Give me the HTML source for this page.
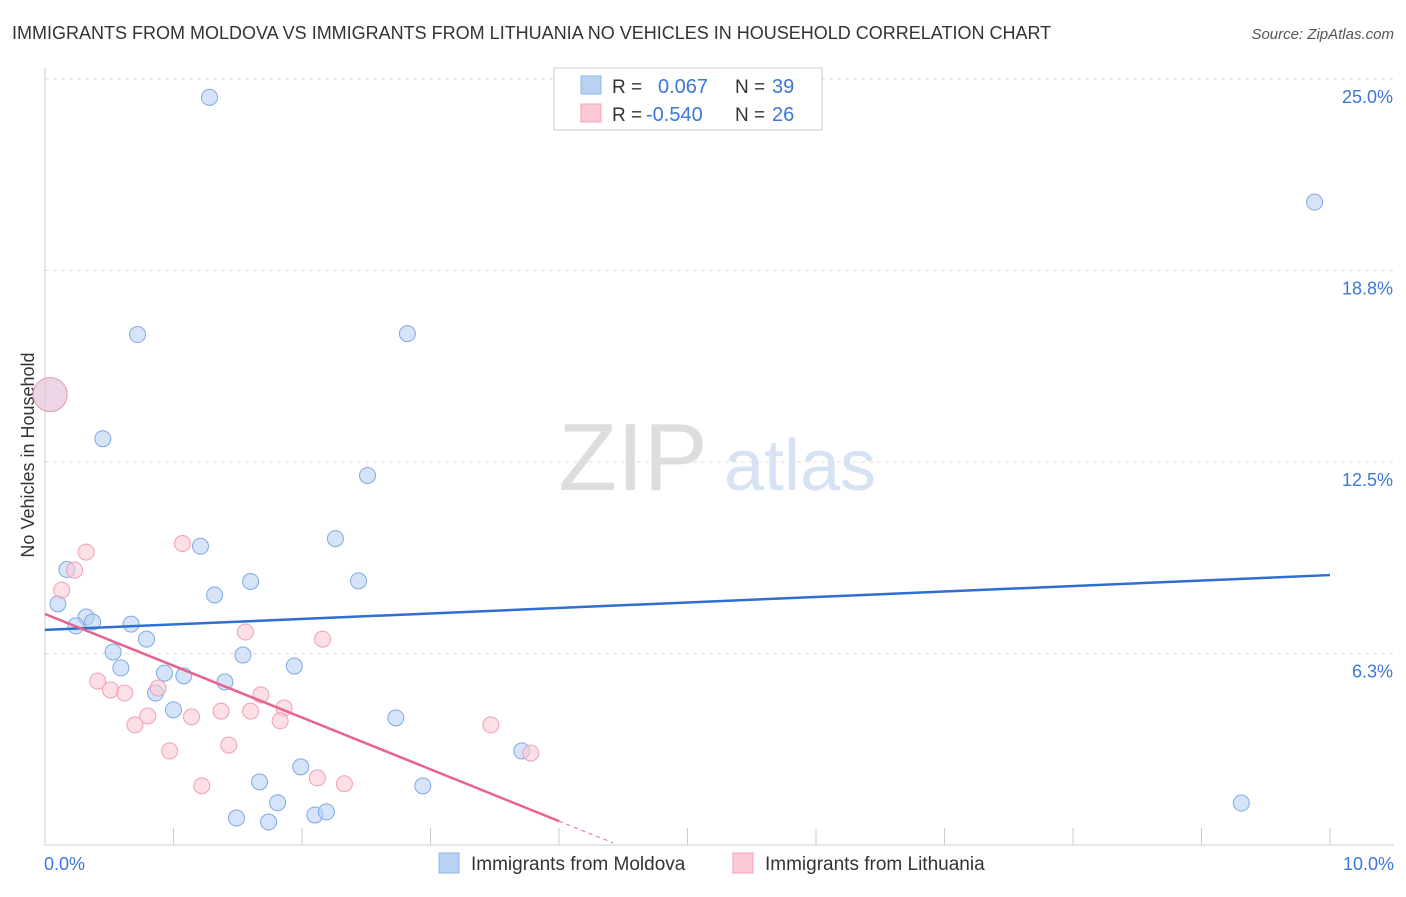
<!DOCTYPE html>
<html><head><meta charset="utf-8"><style>
body{margin:0;background:#fff;font-family:"Liberation Sans",sans-serif;}
svg text{font-family:"Liberation Sans",sans-serif;}
</style></head><body>
<svg id="chart" width="1406" height="892">
<text x="12" y="39" font-size="18" fill="#333">IMMIGRANTS FROM MOLDOVA VS IMMIGRANTS FROM LITHUANIA NO VEHICLES IN HOUSEHOLD CORRELATION CHART</text>
<text x="1394" y="39" font-size="15" fill="#555" font-style="italic" text-anchor="end">Source: ZipAtlas.com</text>
<text transform="translate(34,455) rotate(-90)" font-size="18" fill="#333" text-anchor="middle">No Vehicles in Household</text>
<g><text x="633" y="490" font-size="96" fill="#ddd" text-anchor="middle" font-family="Liberation Serif">ZIP</text><text x="800" y="490" font-size="72" fill="#d6e3f5" text-anchor="middle">atlas</text></g>
<g id="grid"></g><g id="axes"></g><g id="marks"></g>
<g>
<rect x="554" y="68" width="268" height="62" fill="#fff" stroke="#ccc"/>
<rect x="581" y="76" width="20" height="18" fill="#b9d2f3" stroke="#8fb4e8"/>
<text x="612" y="93" font-size="19" fill="#333">R =</text><text x="658" y="93" font-size="20" fill="#3b78d8">0.067</text>
<text x="735" y="93" font-size="19" fill="#333">N =</text><text x="772" y="93" font-size="20" fill="#3b78d8">39</text>
<rect x="581" y="104" width="20" height="18" fill="#fbc9d6" stroke="#f2a3b9"/>
<text x="612" y="121" font-size="19" fill="#333">R =</text><text x="646" y="121" font-size="20" fill="#3b78d8">-0.540</text>
<text x="735" y="121" font-size="19" fill="#333">N =</text><text x="772" y="121" font-size="20" fill="#3b78d8">26</text>
</g>
<g>
<rect x="439" y="853" width="20" height="20" fill="#b9d2f3" stroke="#8fb4e8"/>
<text x="471" y="870" font-size="19" fill="#333">Immigrants from Moldova</text>
<rect x="733" y="853" width="20" height="20" fill="#fbc9d6" stroke="#f2a3b9"/>
<text x="765" y="870" font-size="19" fill="#333">Immigrants from Lithuania</text>
</g>
</svg>
<script>
const yTicks=[25.0,18.75,12.5,6.25];
const yTickLabels=["25.0%","18.8%","12.5%","6.3%"];
const xTickLabels=["0.0%","10.0%"];
const moldovaX=[1.28,9.88,0.72,2.82,0.45,2.51,1.21,2.26,0.17,1.6,2.44,1.32,0.1,0.32,0.37,0.24,0.67,0.79,0.53,1.54,0.59,1.94,0.93,1.08,1.4,0.86,1.0,2.73,3.71,1.99,1.67,2.94,1.81,1.49,1.74,2.1,2.19,9.31,0.04];
const moldovaY=[24.4,20.98,16.66,16.69,13.26,12.06,9.75,10.0,8.99,8.6,8.62,8.16,7.87,7.44,7.28,7.15,7.21,6.72,6.3,6.2,5.78,5.84,5.61,5.52,5.32,4.96,4.41,4.15,3.07,2.55,2.06,1.93,1.38,0.88,0.75,0.98,1.08,1.37,14.7];
const lithuaniaX=[0.32,0.23,0.13,1.07,1.56,2.16,0.41,0.51,0.62,0.88,1.68,0.8,1.14,1.37,1.6,1.86,0.7,1.83,1.43,0.97,3.47,3.78,1.22,2.12,2.33,0.04];
const lithuaniaY=[9.56,8.97,8.32,9.84,6.95,6.72,5.35,5.06,4.96,5.12,4.9,4.21,4.18,4.37,4.37,4.47,3.92,4.05,3.26,3.07,3.92,3.0,1.93,2.19,2.0,14.7];
const trendMoldova=[7.02,8.81];
const trendLithuania=[7.54,-1.69];
const X=v=>45+v*128.5, Y=v=>845-v*30.64;
const NS="http://www.w3.org/2000/svg";
function mk(p,t,a){const e=document.createElementNS(NS,t);for(const k in a)e.setAttribute(k,a[k]);p.appendChild(e);return e;}
const grid=document.getElementById('grid'),axes=document.getElementById('axes'),marks=document.getElementById('marks');
yTicks.forEach((v,i)=>{
const l=mk(grid,'line',{x1:45,x2:1394,y1:Y(v),y2:Y(v),stroke:'#ddd','stroke-dasharray':'4,4'});


const t=mk(axes,'text',{x:1393,y:Y(v)+24,'font-size':18,fill:'#3b78d8','text-anchor':'end'});t.textContent=yTickLabels[i];


});
const xa=mk(axes,'line',{x1:45,x2:1394,y1:845,y2:845,stroke:'#ccc'});


const ya=mk(axes,'line',{x1:45,x2:45,y1:68,y2:845,stroke:'#ccc'});


for(let i=1;i<=10;i++){const t=mk(axes,'line',{x1:X(i),x2:X(i),y1:828,y2:845,stroke:'#ccc'});

}
[[0,'start',44],[10,'end',1394]].forEach(([v,a,x],i)=>{const t=mk(axes,'text',{x:x,y:870,'font-size':18,fill:'#3b78d8','text-anchor':a});t.textContent=xTickLabels[i];

});
function pts(xs,ys,fill,stroke,name){xs.forEach((x,i)=>{const big=i===xs.length-1;
const c=mk(marks,'circle',{cx:X(x),cy:Y(ys[i]),r:big?17:8,fill:fill,'fill-opacity':big?0.55:0.6,stroke:stroke,'stroke-width':1});

});}
pts(moldovaX,moldovaY,'#b9d2f3','#7fa9e3','point-moldova');
pts(lithuaniaX,lithuaniaY,'#fbc9d6','#ef9fb6','point-lithuania');
const tb=mk(marks,'line',{x1:X(0),y1:Y(trendMoldova[0]),x2:X(10),y2:Y(trendMoldova[1]),stroke:'#2f6fd1','stroke-width':2.5});


const lp=v=>trendLithuania[0]+trendLithuania[1]*v;
const tp=mk(marks,'line',{x1:X(0),y1:Y(lp(0)),x2:X(4.0),y2:Y(lp(4.0)),stroke:'#e8628c','stroke-width':2.5});


const td=mk(marks,'line',{x1:X(4.0),y1:Y(lp(4.0)),x2:X(4.42),y2:Y(lp(4.42)),stroke:'#e8628c','stroke-width':1,'stroke-dasharray':'4,4'});


</script>
</body></html>
